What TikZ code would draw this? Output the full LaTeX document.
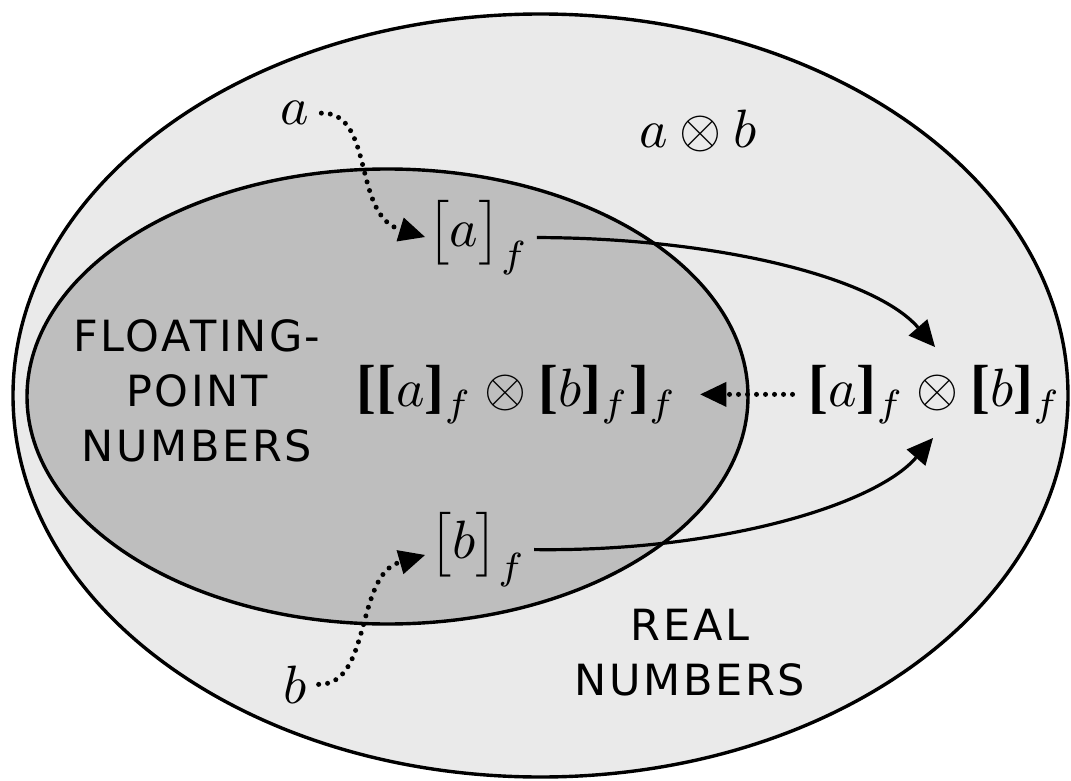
\documentclass[tikz,border=0pt]{standalone}
\usepackage{fontspec}
\newfontfamily\labfont[LetterSpace=6]{DejaVu Sans}
\newfontfamily\brkfont{Liberation Serif}
\usetikzlibrary{arrows.meta,calc}
\definecolor{outerg}{gray}{0.918}
\definecolor{innerg}{gray}{0.745}
\newcommand\bbl{\mbox{\brkfont\bfseries\fontsize{11}{12}\selectfont[}}
\newcommand\bbr{\mbox{\brkfont\bfseries\fontsize{11}{12}\selectfont]}}
\begin{document}
\begin{tikzpicture}[x=1pt,y=-1pt,
  mathlbl/.style={inner sep=0.37pt, scale=5.4, transform shape},
  setlbl/.style={align=center, inner sep=0pt, font=\labfont\fontsize{43}{55}\selectfont},
  settype/.style={line width=3.4pt, draw=black},
  dotarrow/.style={line width=5pt, dash pattern=on 0pt off 9pt, line cap=round,
    -{Triangle[length=26pt,width=25pt,line width=0pt]}},
  solidarrow/.style={line width=3.2pt, -{Triangle[length=26pt,width=25pt,line width=0pt]}}]
\useasboundingbox (0,0) rectangle (1071,781);
\fill[white] (0,0) rectangle (1071,781);
\draw[settype, fill=outerg] (540.5,395.5) ellipse [x radius=527.5pt, y radius=381.5pt];
\draw[settype, fill=innerg] (387.5,396.5) ellipse [x radius=360.5pt, y radius=227.5pt];

\node[setlbl] (fp) at (197,391) {FLOATING-\\POINT\\NUMBERS};
\node[setlbl] (rn) at (690,653) {REAL\\NUMBERS};

\node[mathlbl, anchor=base, inner sep=0pt] (a) at (295,125) {$a$};
\node[mathlbl, anchor=base, inner sep=0pt] (b) at (295,703) {$b$};
\node[mathlbl, anchor=base] (af) at (478,246) {$\bigl[a\bigr]_f$};
\node[mathlbl, anchor=base] (bf) at (478,558) {$\bigl[b\bigr]_f$};
\node[mathlbl, anchor=base] (m) at (517,406) {$\bbl\bbl a\bbr_f\otimes\bbl b\bbr_f\bbr_f$};
\node[mathlbl, anchor=base] (r) at (935,406) {$\bbl a\bbr_f\otimes\bbl b\bbr_f$};
\node[mathlbl, anchor=base] (ab) at (698,147) {$a\otimes b$};

\coordinate (ta) at ($(af.base)+(-53,-9)$);
\coordinate (tb) at ($(bf.base)+(-53,-3)$);
\coordinate (rt) at ($(r.base)+(0,-59)$);
\coordinate (rb) at ($(r.base)+(-2,32)$);

\draw[dotarrow, shorten <=11pt] (a.east) .. controls (375,112) and (352,215) .. (ta);
\draw[dotarrow, shorten <=11pt] (b.east) .. controls (372,685) and (355,575) .. (tb);
\draw[solidarrow, shorten <=5pt] (af.east) .. controls (720,238) and (875,278) .. (rt);
\draw[solidarrow, shorten <=5pt] (bf.east) .. controls (720,552) and (875,505) .. (rb);
\draw[dotarrow, shorten <=13pt, shorten >=20pt] (r.west) -- (m.east);
\end{tikzpicture}
\end{document}
